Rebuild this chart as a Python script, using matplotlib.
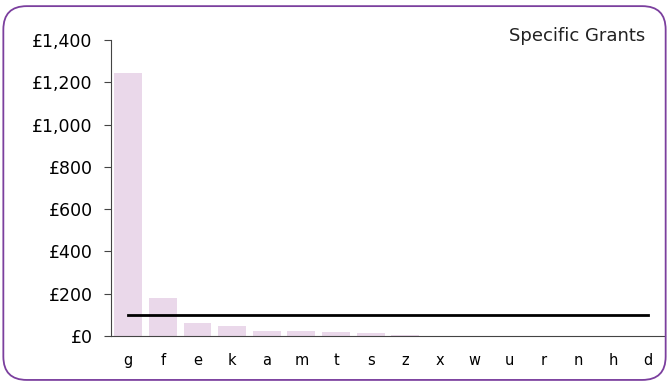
import matplotlib.pyplot as plt
from matplotlib.patches import FancyBboxPatch
from matplotlib.ticker import FuncFormatter

categories = ['g', 'f', 'e', 'k', 'a', 'm', 't', 's', 'z', 'x', 'w', 'u', 'r', 'n', 'h', 'd']
values = [1245, 180, 63, 47, 24, 24, 19, 14, 3, 0, 0, 0, 0, 0, 0, 0]
average = [100] * len(categories)

fig = plt.figure(figsize=(6.69, 3.83), dpi=100)

# rounded purple frame
frame = FancyBboxPatch((0.005, 0.008), 0.99, 0.976, boxstyle='round,pad=0,rounding_size=0.035',
                       transform=fig.transFigure, facecolor='none', edgecolor='#7b3f9e',
                       linewidth=1.3, mutation_aspect=669 / 383, zorder=10)
fig.patches.append(frame)

ax = fig.add_axes([0.1655, 0.1227, 0.829, 0.7728])
ax.set_facecolor('none')

x = range(len(categories))
ax.bar(x, values, width=0.8, color='#ead8ea')
ax.plot(x, average, color='black', linewidth=2)

ax.set_xlim(-0.5, len(categories) - 0.5)
ax.set_ylim(0, 1400)
ax.set_yticks(range(0, 1401, 200))
ax.yaxis.set_major_formatter(FuncFormatter(lambda v, p: f'£{int(v):,}'))
ax.set_xticks(list(x))
ax.set_xticklabels(categories)

for s in ['top', 'right']:
    ax.spines[s].set_visible(False)
ax.spines['left'].set_color('#444444')
ax.spines['bottom'].set_color('#444444')
ax.tick_params(axis='y', direction='out', length=5, color='#444444', labelsize=12.5, pad=8)
ax.tick_params(axis='x', length=0, labelsize=10.5, pad=12)

fig.text(0.965, 0.905, 'Specific Grants', ha='right', va='center', fontsize=13, color='#222222')

fig.savefig('out.png', dpi=100)
